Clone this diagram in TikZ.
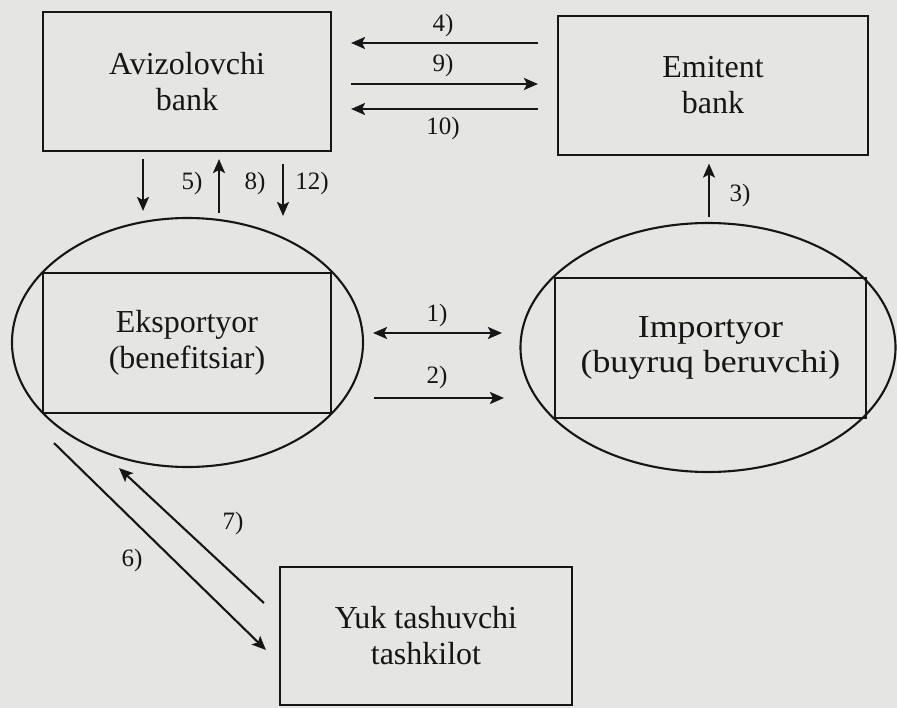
\documentclass[tikz,border=0pt]{standalone}
\usepackage{fontspec}
\setmainfont{Liberation Serif}
\usetikzlibrary{arrows.meta,shapes.geometric}
\definecolor{paper}{RGB}{229,230,227}
\definecolor{ink}{RGB}{22,22,22}
\begin{document}
\begin{tikzpicture}[x=1pt,y=-1pt,
  >={Stealth[length=14pt,width=12pt,inset=3pt]},
  box/.style={draw=ink,line width=2.1pt,rectangle,inner sep=0pt,align=center,
    text=ink,font=\fontsize{32}{36}\selectfont},
  oval/.style={draw=ink,line width=2.1pt,ellipse,inner sep=0pt},
  arr/.style={draw=ink,line width=2.1pt,->},
  darr/.style={draw=ink,line width=2.1pt,<->},
  num/.style={text=ink,font=\fontsize{25}{28}\selectfont,inner sep=0pt}]

% page
\fill[paper] (0,0) rectangle (897,708);
\useasboundingbox (0,0) rectangle (897,708);

% banks
\node[box,minimum width=288pt,minimum height=139pt] (avz) at (187,81.5) {Avizolovchi\\bank};
\node[box,minimum width=310pt,minimum height=139pt] (emit) at (713,85.5) {Emitent\\bank};

% trading parties
\node[oval,minimum width=351pt,minimum height=249pt] (expE) at (187.5,342.5) {};
\node[box,minimum width=288pt,minimum height=140pt] (expR) at (187,343) {Eksportyor\\(benefitsiar)};
\node[oval,minimum width=375pt,minimum height=249pt] (impE) at (708,347.5) {};
\node[box,minimum width=311pt,minimum height=140pt,
  font=\fontsize{32}{35}\selectfont\addfontfeatures{FakeStretch=1.12}] (impR) at (710.5,348)
  {Importyor\\(buyruq beruvchi)};

% carrier
\node[box,minimum width=292pt,minimum height=138pt] (yuk) at (426,636) {Yuk tashuvchi\\tashkilot};

% bank <-> bank
\draw[arr] ([shift={(-19,-42.5)}]emit.west) -- ([shift={(19,-38.5)}]avz.east);
\draw[arr] ([shift={(19,2.5)}]avz.east) -- ([shift={(-19,-1.5)}]emit.west);
\draw[arr] ([shift={(-19,23.5)}]emit.west) -- ([shift={(19,27.5)}]avz.east);
\node[num] (n4) at (443,25) {4)};
\node[num] (n9) at (443,65) {9)};
\node[num] (n10) at (443,128) {10)};

% advising bank <-> exporter
\draw[arr] ([shift={(-44,7)}]avz.south) -- ([shift={(-44.5,-6)}]expE.north);
\draw[arr] ([shift={(31.5,-4)}]expE.north) -- ([shift={(32,7)}]avz.south);
\draw[arr] ([shift={(96,12)}]avz.south) -- ([shift={(95.5,-1)}]expE.north);
\node[num] (n5) at (192,183) {5)};
\node[num] (n8) at (255,183) {8)};
\node[num] (n12) at (312,183) {12)};

% importer -> issuing bank
\draw[arr] ([shift={(1,-5)}]impE.north) -- ([shift={(-4,7.5)}]emit.south);
\node[num] (n3) at (740,195) {3)};

% exporter <-> importer
\draw[darr] ([shift={(9,-9.5)}]expE.east) -- ([shift={(-17.5,-14.5)}]impE.west);
\draw[arr] ([shift={(10,55.5)}]expE.east) -- ([shift={(-15.5,50.5)}]impE.west);
\node[num] (n1) at (437,315) {1)};
\node[num] (n2) at (437,377) {2)};

% exporter <-> carrier
\draw[arr] ([shift={(-133.5,-25)}]expE.south) -- ([shift={(-13,14)}]yuk.west);
\draw[arr] ([shift={(-15,-33)}]yuk.west) -- ([shift={(-68.5,0)}]expE.south);
\node[num] (n6) at (132,560) {6)};
\node[num] (n7) at (233,523) {7)};
\end{tikzpicture}
\end{document}
